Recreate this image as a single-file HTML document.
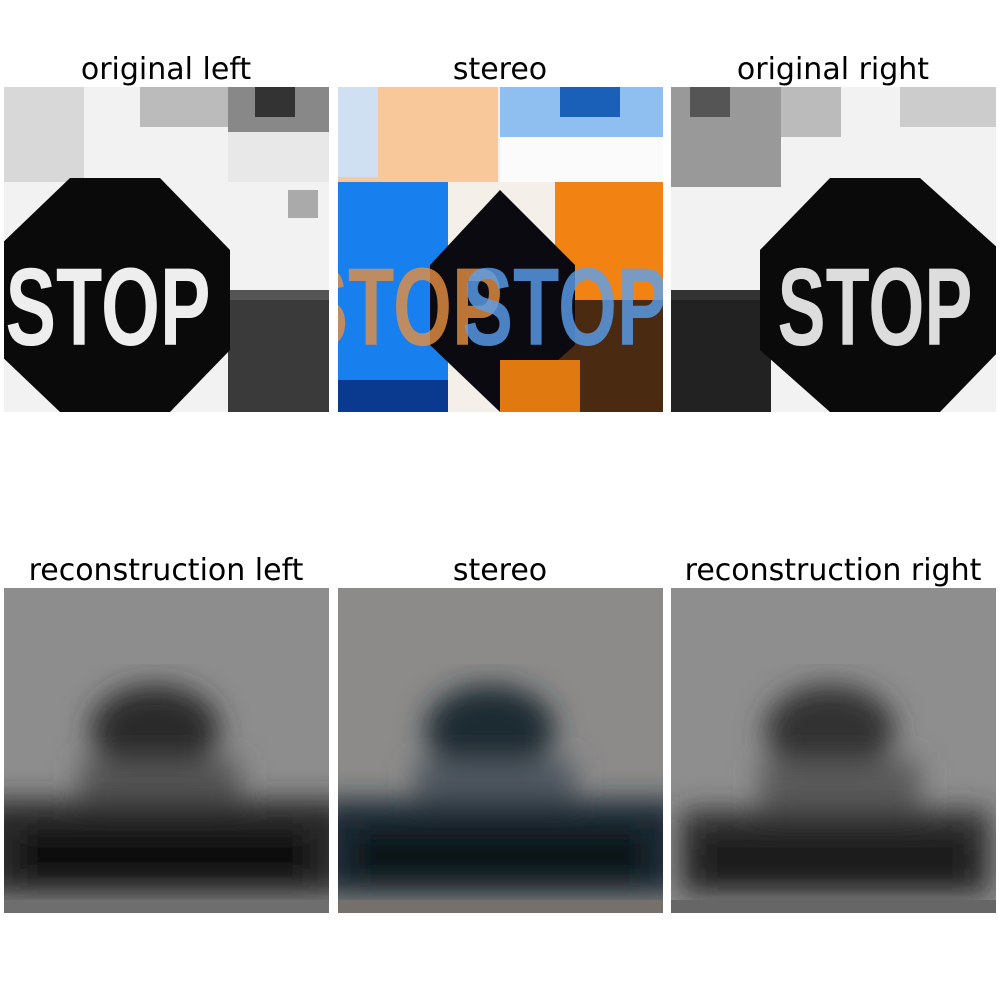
<!DOCTYPE html>
<html><head><meta charset="utf-8"><style>
body{margin:0;background:#fff;width:1000px;height:1000px;overflow:hidden;font-family:"Liberation Sans","DejaVu Sans",sans-serif}
</style></head><body>
<svg width="1000" height="1000" xmlns="http://www.w3.org/2000/svg">
<defs>
<filter id="bl2"><feGaussianBlur stdDeviation="14"/></filter>
<clipPath id="c1"><rect x="4" y="87" width="325" height="325"/></clipPath>
<clipPath id="c2"><rect x="338" y="87" width="325" height="325"/></clipPath>
<clipPath id="c3"><rect x="671" y="87" width="325" height="325"/></clipPath>
<clipPath id="c4"><rect x="4" y="588" width="325" height="325"/></clipPath>
<clipPath id="c5"><rect x="338" y="588" width="325" height="325"/></clipPath>
<clipPath id="c6"><rect x="671" y="588" width="325" height="325"/></clipPath>
</defs>
<g font-size="30" fill="#000" text-anchor="middle" font-family="DejaVu Sans, Liberation Sans, sans-serif">
<text x="166" y="79">original left</text>
<text x="500" y="79">stereo</text>
<text x="833" y="79">original right</text>
<text x="166" y="580">reconstruction left</text>
<text x="500" y="580">stereo</text>
<text x="833" y="580">reconstruction right</text>
</g>

<g clip-path="url(#c1)">
<rect x="4" y="87" width="325" height="325" fill="#f2f2f2"/>
<rect x="4" y="87" width="80" height="95" fill="#d8d8d8"/>
<rect x="140" y="87" width="90" height="40" fill="#bbb"/>
<rect x="228" y="87" width="101" height="45" fill="#888"/>
<rect x="255" y="87" width="40" height="30" fill="#333"/>
<rect x="228" y="132" width="101" height="50" fill="#e8e8e8"/>
<rect x="228" y="290" width="101" height="122" fill="#555"/>
<rect x="228" y="300" width="101" height="112" fill="#3a3a3a"/>
<rect x="288" y="190" width="30" height="28" fill="#aaa"/>
<polygon points="70,178 160,178 230,250 230,350 170,412 60,412 -5,350 -5,250" fill="#0a0a0a"/>
<text x="108" y="345" font-size="110" fill="#eee" text-anchor="middle" font-weight="bold" textLength="205" lengthAdjust="spacingAndGlyphs">STOP</text>
</g>

<g clip-path="url(#c2)">
<rect x="338" y="87" width="325" height="325" fill="#f4efe8"/>
<rect x="338" y="87" width="160" height="95" fill="#f9c89a"/>
<rect x="500" y="87" width="163" height="50" fill="#8fbff0"/>
<rect x="560" y="87" width="60" height="30" fill="#1a5fb8"/>
<rect x="338" y="87" width="40" height="90" fill="#cfe0f2"/>
<rect x="500" y="137" width="163" height="45" fill="#fbfbfb"/>
<rect x="338" y="182" width="110" height="230" fill="#1880ee"/>
<rect x="555" y="182" width="108" height="120" fill="#f28211"/>
<rect x="555" y="300" width="108" height="112" fill="#4a2a10"/>
<polygon points="500,190 575,265 575,345 500,412 430,345 430,265" fill="#0a0a10"/>
<rect x="338" y="380" width="110" height="32" fill="#0a3a90"/>
<rect x="500" y="360" width="80" height="52" fill="#e07a10"/>
<text x="400" y="345" font-size="110" fill="#e89040" text-anchor="middle" font-weight="bold" textLength="205" lengthAdjust="spacingAndGlyphs" opacity="0.8">STOP</text>
<text x="565" y="345" font-size="110" fill="#5aa0f0" text-anchor="middle" font-weight="bold" textLength="205" lengthAdjust="spacingAndGlyphs" opacity="0.8">STOP</text>
</g>

<g clip-path="url(#c3)">
<rect x="671" y="87" width="325" height="325" fill="#f2f2f2"/>
<rect x="671" y="87" width="110" height="100" fill="#999"/>
<rect x="690" y="87" width="40" height="30" fill="#555"/>
<rect x="781" y="87" width="60" height="50" fill="#bbb"/>
<rect x="900" y="87" width="96" height="40" fill="#ccc"/>
<rect x="671" y="290" width="100" height="122" fill="#333"/>
<rect x="671" y="300" width="100" height="112" fill="#222"/>
<polygon points="830,178 920,178 1000,250 1000,350 940,412 830,412 760,350 760,250" fill="#0a0a0a"/>
<text x="875" y="345" font-size="110" fill="#ddd" text-anchor="middle" font-weight="bold" textLength="195" lengthAdjust="spacingAndGlyphs">STOP</text>
</g>

<g clip-path="url(#c4)">
<rect x="4" y="588" width="325" height="325" fill="#8d8d8d"/>
<g filter="url(#bl2)">
<ellipse cx="155" cy="730" rx="65" ry="45" fill="#2a2a2a"/>
<rect x="80" y="760" width="160" height="60" fill="#555"/>
<rect x="-20" y="800" width="370" height="95" fill="#2a2a2a"/>
<rect x="20" y="830" width="290" height="50" fill="#111"/>
</g>
<rect x="4" y="900" width="325" height="13" fill="#6e6e6e"/>
</g>
<g clip-path="url(#c5)">
<rect x="338" y="588" width="325" height="325" fill="#8c8b8a"/>
<g filter="url(#bl2)">
<ellipse cx="490" cy="730" rx="65" ry="45" fill="#1f2a33"/>
<rect x="415" y="760" width="160" height="60" fill="#4f5860"/>
<rect x="315" y="800" width="370" height="95" fill="#1f2a35"/>
<rect x="355" y="830" width="290" height="50" fill="#0c1218"/>
</g>
<rect x="338" y="900" width="325" height="13" fill="#75706b"/>
</g>
<g clip-path="url(#c6)">
<rect x="671" y="588" width="325" height="325" fill="#8e8e8e"/>
<g filter="url(#bl2)">
<ellipse cx="830" cy="730" rx="65" ry="45" fill="#333"/>
<rect x="760" y="760" width="160" height="60" fill="#5a5a5a"/>
<rect x="680" y="810" width="310" height="85" fill="#2e2e2e"/>
<rect x="700" y="840" width="270" height="40" fill="#151515"/>
</g>
<rect x="671" y="900" width="325" height="13" fill="#666"/>
</g>
</svg>
</body></html>
